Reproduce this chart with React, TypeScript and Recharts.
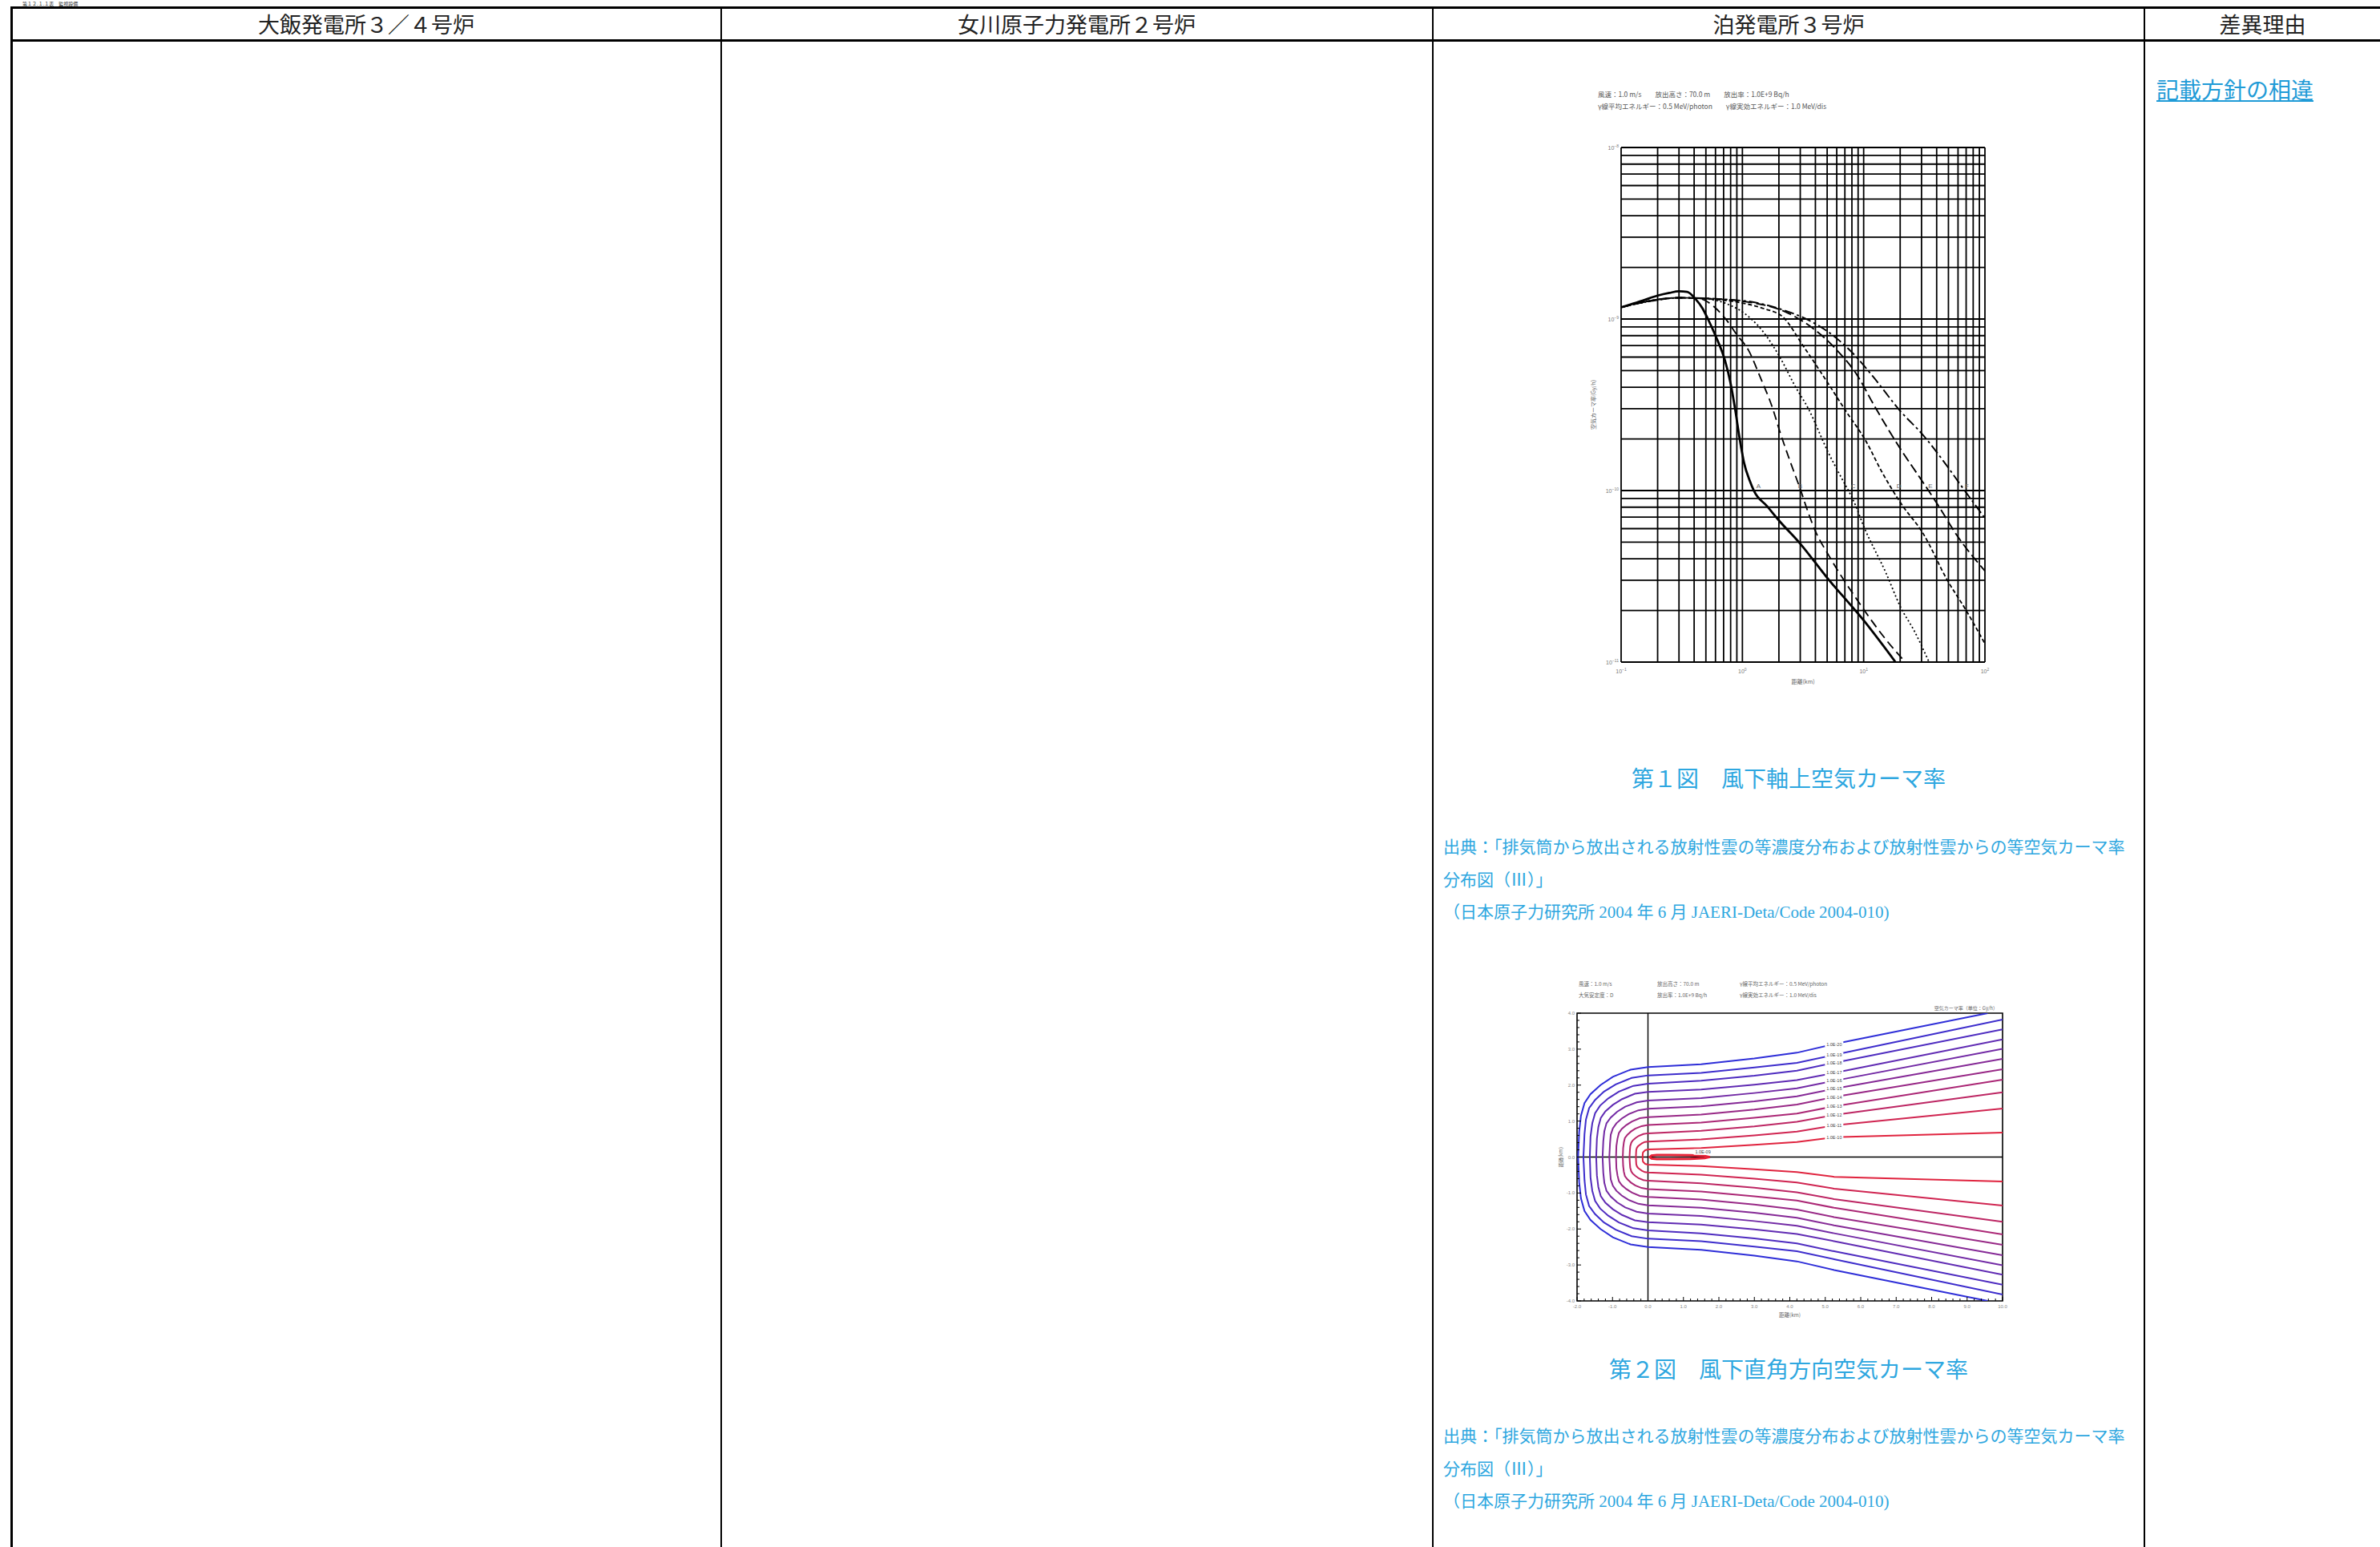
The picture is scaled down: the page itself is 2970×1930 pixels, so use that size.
import React from 'react';
import {
  LineChart,
  Line,
  XAxis,
  YAxis,
  CartesianGrid,
  ReferenceDot,
  ReferenceLine,
  ReferenceArea
} from 'recharts';

// ---- 第1図 風下軸上空気カーマ率 : [距離(km), 空気カーマ率(Gy/h)] ----
const curveA: [number, number][] = [
  [0.1, 1.17e-9], [0.15, 1.28e-9], [0.2, 1.37e-9], [0.25, 1.42e-9], [0.3, 1.45e-9],
  [0.35, 1.44e-9], [0.41, 1.31e-9], [0.47, 1.15e-9], [0.52, 1.0e-9], [0.6, 8.0e-10],
  [0.72, 5.7e-10], [0.8, 4.2e-10], [0.87, 3.0e-10], [0.95, 2.0e-10], [1.03, 1.46e-10],
  [1.15, 1.14e-10], [1.25, 9.9e-11], [1.6, 8.1e-11], [2.0, 6.7e-11], [3.0, 4.9e-11],
  [5.0, 3.1e-11], [10, 1.75e-11], [18.3, 1.0e-11]
];
const curveB: [number, number][] = [
  [0.1, 1.17e-9], [0.2, 1.29e-9], [0.3, 1.33e-9], [0.45, 1.31e-9], [0.6, 1.16e-9],
  [0.745, 9.8e-10], [0.9, 8.1e-10], [1.12, 6.6e-10], [1.4, 4.6e-10], [1.78, 3.0e-10],
  [2.04, 2.2e-10], [2.5, 1.45e-10], [3.0, 1.02e-10], [3.5, 7.4e-11], [4.0, 5.8e-11],
  [5.14, 4.2e-11], [8.85, 2.3e-11], [15.3, 1.35e-11], [22, 1.0e-11]
];
const curveC: [number, number][] = [
  [0.1, 1.17e-9], [0.2, 1.29e-9], [0.3, 1.33e-9], [0.5, 1.31e-9], [0.8, 1.2e-9],
  [1.0, 1.1e-9], [1.47, 8.5e-10], [2.09, 5.8e-10], [2.7, 4.1e-10], [3.5, 3.0e-10],
  [5.14, 1.65e-10], [6.5, 1.2e-10], [8.2, 8.8e-11], [10.2, 6.0e-11], [15.3, 3.3e-11],
  [20.1, 2.1e-11], [26.4, 1.5e-11], [34.6, 1.0e-11]
];
const curveD: [number, number][] = [
  [0.1, 1.17e-9], [0.3, 1.33e-9], [0.6, 1.3e-9], [1.0, 1.24e-9], [1.5, 1.15e-9],
  [2.15, 1.03e-9], [3.16, 7.0e-10], [5.0, 4.3e-10], [7.15, 2.9e-10], [10.4, 1.95e-10],
  [14, 1.3e-10], [20.1, 8.5e-11], [31, 5.6e-11], [49, 3.0e-11], [70, 2.0e-11], [100, 1.28e-11]
];
const curveE: [number, number][] = [
  [0.1, 1.17e-9], [0.3, 1.33e-9], [0.6, 1.31e-9], [1.0, 1.27e-9], [2.4, 1.08e-9],
  [4.0, 8.6e-10], [6.0, 6.6e-10], [8.85, 4.7e-10], [12, 3.2e-10], [20.1, 1.75e-10],
  [30, 1.15e-10], [40.7, 8.3e-11], [59.6, 5.4e-11], [100, 3.4e-11]
];
const curveF: [number, number][] = [
  [0.1, 1.17e-9], [0.3, 1.33e-9], [1.0, 1.28e-9], [2.0, 1.15e-9], [3.46, 9.9e-10],
  [5.0, 8.5e-10], [8.0, 6.4e-10], [12, 4.6e-10], [20.1, 2.9e-10], [31, 2.1e-10],
  [45, 1.5e-10], [66, 1.03e-10], [100, 6.9e-11]
];
const curveLetters = ['A', 'B', 'C', 'D', 'E', 'F'];
const letterPoints: [number, number][] = [
  [1.36, 1.07e-10], [3.0, 1.07e-10], [8.2, 1.07e-10], [19.5, 1.07e-10], [35.5, 1.07e-10], [71, 1.07e-10]
];
const xDecades = [0.1, 1, 10, 100];
const yDecades = [1e-11, 1e-10, 1e-9, 1e-8];

// ---- 第2図 風下直角方向空気カーマ率 : upper half of each contour [風下距離(km), 直角距離(km)] ----
const contour20: [number, number][] = [[9.58, 4.0], [5.25, 3.14], [4.2, 2.9], [3.0, 2.74], [1.5, 2.58], [0, 2.5], [-0.49, 2.43], [-0.99, 2.23], [-1.34, 2.0], [-1.62, 1.75], [-1.79, 1.5], [-1.89, 1.15], [-1.94, 0.7], [-1.97, 0]];
const contour19: [number, number][] = [[10, 3.82], [5.25, 2.84], [4.2, 2.62], [3.0, 2.49], [1.5, 2.34], [0, 2.27], [-0.46, 2.2], [-0.91, 2.02], [-1.24, 1.82], [-1.49, 1.59], [-1.66, 1.36], [-1.75, 1.04], [-1.79, 0.64], [-1.82, 0]];
const contour18: [number, number][] = [[10, 3.55], [5.25, 2.62], [4.2, 2.4], [3.0, 2.26], [1.5, 2.12], [0, 2.04], [-0.41, 1.98], [-0.82, 1.82], [-1.12, 1.63], [-1.35, 1.43], [-1.49, 1.22], [-1.57, 0.94], [-1.62, 0.57], [-1.64, 0]];
const contour17: [number, number][] = [[10, 3.27], [5.25, 2.34], [4.2, 2.14], [3.0, 2.01], [1.5, 1.88], [0, 1.81], [-0.37, 1.76], [-0.73, 1.61], [-0.99, 1.45], [-1.2, 1.27], [-1.33, 1.09], [-1.4, 0.83], [-1.44, 0.51], [-1.46, 0]];
const contour16: [number, number][] = [[10, 3.01], [5.25, 2.12], [4.2, 1.91], [3.0, 1.78], [1.5, 1.64], [0, 1.57], [-0.32, 1.52], [-0.64, 1.4], [-0.87, 1.26], [-1.05, 1.1], [-1.17, 0.94], [-1.23, 0.72], [-1.26, 0.44], [-1.28, 0]];
const contour15: [number, number][] = [[10, 2.73], [5.25, 1.9], [4.2, 1.69], [3.0, 1.55], [1.5, 1.41], [0, 1.34], [-0.27, 1.3], [-0.55, 1.19], [-0.74, 1.07], [-0.89, 0.94], [-0.99, 0.8], [-1.05, 0.62], [-1.07, 0.38], [-1.09, 0]];
const contour14: [number, number][] = [[10, 2.44], [5.25, 1.67], [4.2, 1.46], [3.0, 1.32], [1.5, 1.18], [0, 1.11], [-0.23, 1.08], [-0.45, 0.99], [-0.61, 0.89], [-0.74, 0.78], [-0.82, 0.67], [-0.86, 0.51], [-0.89, 0.31], [-0.9, 0]];
const contour13: [number, number][] = [[10, 2.15], [5.25, 1.41], [4.2, 1.21], [3.0, 1.09], [1.5, 0.96], [0, 0.89], [-0.18, 0.86], [-0.36, 0.79], [-0.48, 0.71], [-0.58, 0.62], [-0.65, 0.53], [-0.68, 0.41], [-0.7, 0.25], [-0.71, 0]];
const contour12: [number, number][] = [[10, 1.8], [5.25, 1.17], [4.2, 0.98], [3.0, 0.85], [1.5, 0.73], [0, 0.66], [-0.13, 0.64], [-0.26, 0.59], [-0.35, 0.53], [-0.43, 0.46], [-0.47, 0.4], [-0.5, 0.3], [-0.51, 0.18], [-0.52, 0]];
const contour11: [number, number][] = [[10, 1.35], [5.25, 0.88], [4.2, 0.71], [3.0, 0.6], [1.5, 0.49], [0, 0.43], [-0.09, 0.42], [-0.17, 0.38], [-0.23, 0.34], [-0.28, 0.3], [-0.31, 0.26], [-0.33, 0.2], [-0.335, 0.12], [-0.34, 0]];
const contour10: [number, number][] = [[10, 0.68], [5.25, 0.55], [4.2, 0.42], [3.0, 0.34], [1.5, 0.25], [0, 0.21], [-0.04, 0.2], [-0.08, 0.19], [-0.1, 0.17], [-0.12, 0.15], [-0.14, 0.13], [-0.145, 0.1], [-0.15, 0.06], [-0.15, 0]];
const contour09: [number, number][] = [[1.75, 0], [1.6, 0.03], [1.2, 0.05], [0.6, 0.06], [0.25, 0.06], [0.1, 0.04], [0.05, 0]];
const contourLabels = ['1.0E-20', '1.0E-19', '1.0E-18', '1.0E-17', '1.0E-16', '1.0E-15', '1.0E-14', '1.0E-13', '1.0E-12', '1.0E-11', '1.0E-10'];
const innerLabel = '1.0E-09';
const innerLabelPoint: [number, number] = [1.55, 0.14];
const contourXLabels = [-2, -1, 0, 1, 2, 3, 4, 5, 6, 7, 8, 9, 10];
const contourYLabels = [4, 3, 2, 1, 0, -1, -2, -3, -4];

const contours = [contour20, contour19, contour18, contour17, contour16, contour15, contour14, contour13, contour12, contour11, contour10];
const contourColors = ['#2e2ed8', '#3d2dcc', '#4e2cc0', '#602bb3', '#722aa5', '#852996', '#982886', '#ab2775', '#bd2663', '#d02551', '#e0243f'];

const curveStyles = [
  { data: curveA, dash: undefined, width: 2.8 },
  { data: curveB, dash: '11 6', width: 1.8 },
  { data: curveC, dash: '2 3', width: 1.8 },
  { data: curveD, dash: '5 3', width: 1.8 },
  { data: curveE, dash: '12 5', width: 1.9 },
  { data: curveF, dash: '12 4 3 4', width: 1.9 }
];

const toPts = (arr: [number, number][]) => arr.map(([x, y]) => ({ x, y }));
const closeContour = (upper: [number, number][]) =>
  toPts([...upper, ...upper.slice(0, -1).reverse().map(([x, y]) => [x, -y] as [number, number])]);

const withMinors = (decades: number[]) => {
  const out: number[] = [];
  decades.forEach((d, i) => {
    if (i === decades.length - 1) { out.push(d); return; }
    for (let m = 1; m <= 9; m++) out.push(Number((m * d).toPrecision(2)));
  });
  return out;
};
const xGrid = withMinors(xDecades);
const yGrid = withMinors(yDecades);

const minorSteps = (first: number, last: number) => {
  const out: number[] = [];
  const n = Math.round((last - first) / 0.2);
  for (let k = 0; k <= n; k++) out.push(Math.round((first + k * 0.2) * 10) / 10);
  return out;
};
const cxTicks = minorSteps(contourXLabels[0], contourXLabels[contourXLabels.length - 1]);
const cyTicks = minorSteps(contourYLabels[contourYLabels.length - 1], contourYLabels[0]);

const isDecade = (v: number) => { const e = Math.log10(v); return Math.abs(e - Math.round(e)) < 1e-6; };
const expText = (v: number) => String(Math.round(Math.log10(v))).replace('-', '\u2212');
const isInt = (v: number) => Math.abs(v - Math.round(v)) < 1e-6;

const tickFont = '"Liberation Sans", "Noto Sans CJK JP", sans-serif';
const cjk = '"Noto Sans CJK JP", sans-serif';
const serifCjk = '"Liberation Serif", "Noto Sans CJK JP", serif';

const LogXTick = (p: any) =>
  isDecade(p.payload.value) ? (
    <text x={p.x} y={p.y + 14} textAnchor="middle" fontSize={7} fill="#777" fontFamily={tickFont}>
      10<tspan dy={-3} fontSize={5}>{expText(p.payload.value)}</tspan>
    </text>
  ) : <g />;

const LogYTick = (p: any) =>
  isDecade(p.payload.value) ? (
    <text x={p.x - 3} y={p.y + 2.5} textAnchor="end" fontSize={7} fill="#777" fontFamily={tickFont}>
      10<tspan dy={-3} fontSize={5}>{expText(p.payload.value)}</tspan>
    </text>
  ) : <g />;

const ContourXTick = (p: any) => {
  const v = p.payload.value;
  const major = isInt(v);
  return (
    <g>
      <line x1={p.x} x2={p.x} y1={p.y} y2={p.y - (major ? 5 : 3)} stroke="#000" strokeWidth={1} />
      {major && (
        <text x={p.x} y={p.y + 9} textAnchor="middle" fontSize={6} fill="#888" fontFamily={tickFont}>
          {Math.round(v).toFixed(1)}
        </text>
      )}
    </g>
  );
};

const ContourYTick = (p: any) => {
  const v = p.payload.value;
  const major = isInt(v);
  return (
    <g>
      <line x1={p.x} x2={p.x + (major ? 5 : 3)} y1={p.y} y2={p.y} stroke="#000" strokeWidth={1} />
      {major && (
        <text x={p.x - 3} y={p.y + 2} textAnchor="end" fontSize={6} fill="#888" fontFamily={tickFont}>
          {Math.round(v).toFixed(1)}
        </text>
      )}
    </g>
  );
};

const AxisTitleX = (text: string, dy: number, size: number) => (p: any) => {
  const vb = p.viewBox;
  return (
    <text x={vb.x + vb.width / 2} y={vb.y + dy} textAnchor="middle" fontSize={size} fill="#666" fontFamily={cjk}>
      {text}
    </text>
  );
};

const AxisTitleY = (text: string, cx: number, size: number) => (p: any) => {
  const vb = p.viewBox;
  const cy = vb.y + vb.height / 2;
  return (
    <text x={vb.x + cx} y={cy} textAnchor="middle" dominantBaseline="middle" fontSize={size} fill="#666"
      fontFamily={cjk} transform={`rotate(-90 ${vb.x + cx} ${cy})`}>
      {text}
    </text>
  );
};

const abs = (left: number, top: number, extra: React.CSSProperties = {}): React.CSSProperties => ({
  position: 'absolute', left, top, ...extra
});

const KermaAlongAxis = () => (
  <LineChart width={540} height={710} margin={{ top: 24, right: 23, bottom: 0, left: 0 }}>
    <CartesianGrid stroke="#000" strokeWidth={1.8} />
    <XAxis dataKey="x" type="number" scale="log" domain={[0.1, 100]} ticks={xGrid} interval={0}
      allowDataOverflow tick={LogXTick} tickLine={false} axisLine={false} tickSize={0} tickMargin={0}
      height={44} label={AxisTitleX('距離(km)', 27, 7)} />
    <YAxis type="number" scale="log" domain={[1e-11, 1e-8]} ticks={yGrid} interval={0}
      allowDataOverflow tick={LogYTick} tickLine={false} axisLine={false} tickSize={0} tickMargin={0}
      width={63} label={AxisTitleY('空気カーマ率(Gy/h)', 29, 7)} />
    {curveStyles.map((s, i) => (
      <Line key={curveLetters[i]} data={toPts(s.data)} dataKey="y" type="monotone" stroke="#000"
        strokeWidth={s.width} strokeDasharray={s.dash} dot={false} isAnimationActive={false} />
    ))}
    {curveLetters.map((c, i) => (
      <ReferenceDot key={c} x={letterPoints[i][0]} y={letterPoints[i][1]} r={0}
        shape={(p: any) => (
          <text x={p.cx} y={p.cy + 3} textAnchor="middle" fontSize={8} fill="#666" fontFamily={tickFont}>{c}</text>
        )} />
    ))}
  </LineChart>
);

const ContourLabel = (text: string, size: number) => (p: any) => (
  <g>
    <rect x={p.cx - 11.5} y={p.cy - 3.5} width={23} height={7} fill="#fff" />
    <text x={p.cx} y={p.cy + 2} textAnchor="middle" fontSize={size} fill="#444" fontFamily={tickFont}>{text}</text>
  </g>
);

const KermaCrossWind = () => (
  <LineChart width={600} height={420} margin={{ top: 24, right: 21, bottom: 0, left: 0 }}>
    <XAxis dataKey="x" type="number" domain={[-2, 10]} ticks={cxTicks} interval={0} allowDataOverflow
      tick={ContourXTick} tickLine={false} axisLine={false} tickSize={0} tickMargin={0} height={37}
      label={AxisTitleX('距離(km)', 20, 6.5)} />
    <YAxis type="number" domain={[-4, 4]} ticks={cyTicks} interval={0} allowDataOverflow
      tick={ContourYTick} tickLine={false} axisLine={false} tickSize={0} tickMargin={0} width={48}
      label={AxisTitleY('距離(km)', 28, 6)} />
    <ReferenceArea x1={-2} x2={10} y1={-4} y2={4} fill="none" fillOpacity={0} stroke="#000"
      strokeWidth={1.6} ifOverflow="visible" />
    <ReferenceLine x={0} stroke="#000" strokeWidth={1.4} />
    <ReferenceLine y={0} stroke="#000" strokeWidth={1.4} />
    {contours.map((c, i) => (
      <Line key={contourLabels[i]} data={closeContour(c)} dataKey="y" type="linear"
        stroke={contourColors[i]} strokeWidth={2} dot={false} isAnimationActive={false} />
    ))}
    <Line data={closeContour(contour09)} dataKey="y" type="linear" stroke="#e62236" strokeWidth={2.8}
      dot={false} isAnimationActive={false} />
    {contours.map((c, i) => (
      <ReferenceDot key={'l' + contourLabels[i]} x={c[1][0]} y={c[1][1]} r={0}
        shape={ContourLabel(contourLabels[i], 5.5)} />
    ))}
    <ReferenceDot x={innerLabelPoint[0]} y={innerLabelPoint[1]} r={0} shape={ContourLabel(innerLabel, 5.5)} />
  </LineChart>
);

const caption: React.CSSProperties = { fontFamily: serifCjk, color: '#2ea7e0' };

const App = () => (
  <div style={{ position: 'absolute', left: 0, top: 0, width: 2970, height: 1930, background: '#fff', overflow: 'hidden', fontFamily: cjk }}>
    <div style={abs(28, 1, { fontSize: 6, lineHeight: '7px', color: '#333', whiteSpace: 'nowrap' })}>第１２.１.１表　監視設備</div>

    {/* table rules */}
    <div style={abs(14, 8, { width: 2956, height: 3, background: '#000' })} />
    <div style={abs(14, 49, { width: 2956, height: 3, background: '#000' })} />
    <div style={abs(13, 8, { width: 3, height: 1922, background: '#000' })} />
    {[899, 1787, 2675].map(x => (
      <div key={x} style={abs(x, 8, { width: 2, height: 1922, background: '#000' })} />
    ))}

    {/* header */}
    {[
      { l: 15, r: 899, t: '大飯発電所３／４号炉' },
      { l: 900, r: 1787, t: '女川原子力発電所２号炉' },
      { l: 1789, r: 2675, t: '泊発電所３号炉' },
      { l: 2677, r: 2970, t: '差異理由' }
    ].map(h => (
      <div key={h.t} style={abs(h.l, 11, { width: h.r - h.l, height: 38, lineHeight: '38px', textAlign: 'center', fontSize: 27, color: '#222' })}>
        {h.t}
      </div>
    ))}

    {/* 第1図 */}
    <div style={abs(1994, 110, { fontSize: 8.5, lineHeight: '15px', color: '#555', whiteSpace: 'pre' })}>
      {'風速：1.0 m/s　　放出高さ：70.0 m　　放出率：1.0E+9 Bq/h\nγ線平均エネルギー：0.5 MeV/photon　　γ線実効エネルギー：1.0 MeV/dis'}
    </div>
    <div style={abs(1960, 160)}>
      <KermaAlongAxis />
    </div>
    <div style={abs(1789, 953, { ...caption, width: 886, textAlign: 'center', fontSize: 28, lineHeight: '40px', whiteSpace: 'pre' })}>
      {'第１図　風下軸上空気カーマ率'}
    </div>
    <div style={abs(1801, 1037, { ...caption, fontSize: 21, lineHeight: '40.5px', whiteSpace: 'pre' })}>
      {'出典：「排気筒から放出される放射性雲の等濃度分布および放射性雲からの等空気カーマ率\n分布図（Ⅲ）」\n（日本原子力研究所 2004 年 6 月 JAERI-Deta/Code 2004-010)'}
    </div>

    {/* 第2図 */}
    {[
      { x: 1970, a: '風速：1.0 m/s', b: '大気安定度：D' },
      { x: 2068, a: '放出高さ：70.0 m', b: '放出率：1.0E+9 Bq/h' },
      { x: 2171, a: 'γ線平均エネルギー：0.5 MeV/photon', b: 'γ線実効エネルギー：1.0 MeV/dis' }
    ].map(c => (
      <div key={c.x} style={abs(c.x, 1220, { fontSize: 6.5, lineHeight: '14px', color: '#666', whiteSpace: 'pre' })}>
        {c.a + '\n' + c.b}
      </div>
    ))}
    <div style={abs(2393, 1253, { width: 100, textAlign: 'right', fontSize: 6, lineHeight: '10px', color: '#666', whiteSpace: 'nowrap' })}>
      空気カーマ率（単位：Gy/h）
    </div>
    <div style={abs(1920, 1240)}>
      <KermaCrossWind />
    </div>
    <div style={abs(1789, 1690, { ...caption, width: 886, textAlign: 'center', fontSize: 28, lineHeight: '40px', whiteSpace: 'pre' })}>
      {'第２図　風下直角方向空気カーマ率'}
    </div>
    <div style={abs(1801, 1772, { ...caption, fontSize: 21, lineHeight: '40.5px', whiteSpace: 'pre' })}>
      {'出典：「排気筒から放出される放射性雲の等濃度分布および放射性雲からの等空気カーマ率\n分布図（Ⅲ）」\n（日本原子力研究所 2004 年 6 月 JAERI-Deta/Code 2004-010)'}
    </div>

    {/* 差異理由 */}
    <div style={abs(2691, 96, { fontSize: 28, lineHeight: '36px', color: '#1f9bd7', textDecoration: 'underline', fontFamily: serifCjk, whiteSpace: 'nowrap' })}>
      記載方針の相違
    </div>
  </div>
);

export default App;
